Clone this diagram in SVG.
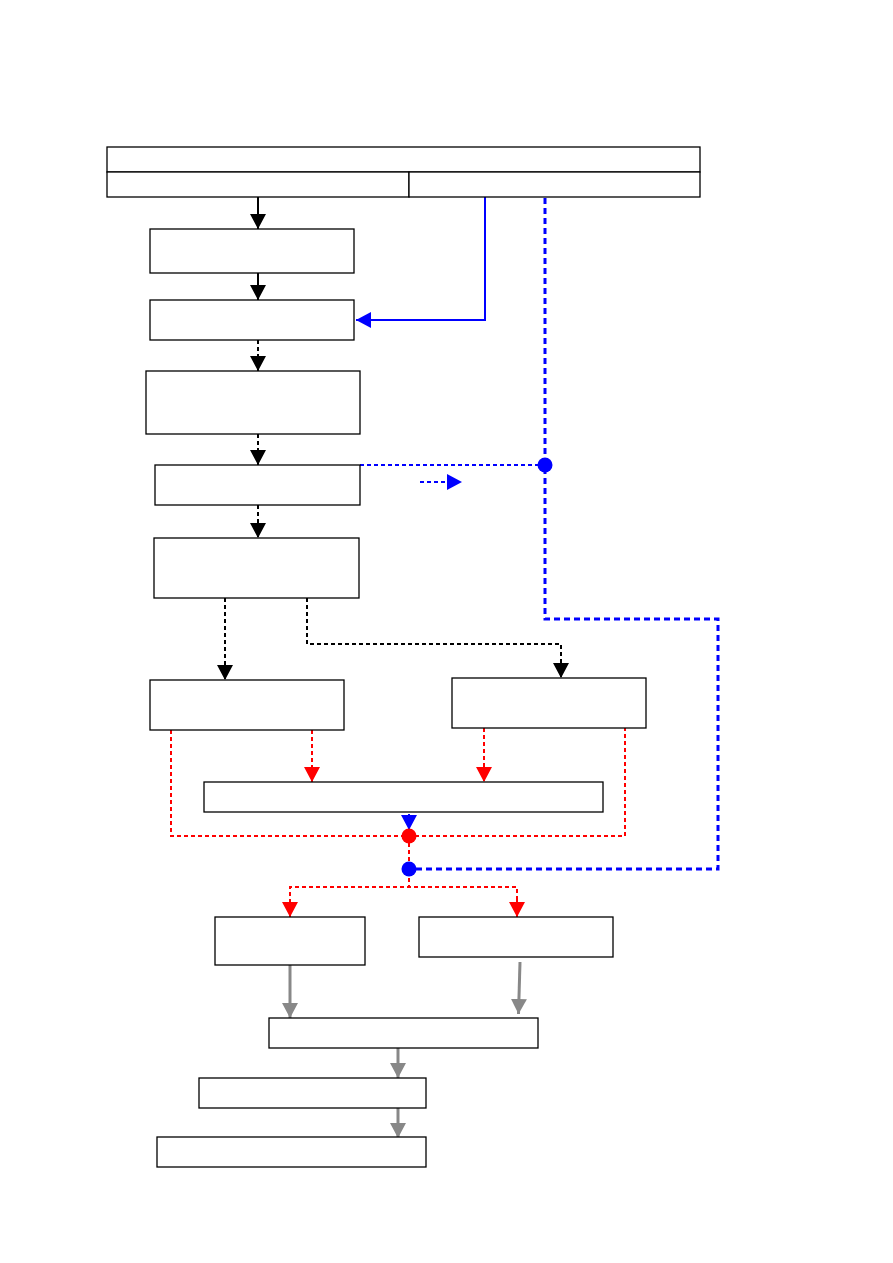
<svg xmlns="http://www.w3.org/2000/svg" width="893" height="1263" viewBox="0 0 893 1263">
<defs>
<style>
.box{fill:#fff;stroke:#000;stroke-width:1.3}
.blk{fill:none;stroke:#000;stroke-width:2}
.blkd{fill:none;stroke:#000;stroke-width:2;stroke-dasharray:4 3}
.blu{fill:none;stroke:#00f;stroke-width:2}
.blud{fill:none;stroke:#00f;stroke-width:3;stroke-dasharray:6 4}
.bluds{fill:none;stroke:#00f;stroke-width:2;stroke-dasharray:4 3}
.redd{fill:none;stroke:#f00;stroke-width:2;stroke-dasharray:4 3}
.gry{fill:none;stroke:#888;stroke-width:3}
</style>
<marker id="ab" markerWidth="16" markerHeight="16" refX="15" refY="8" orient="auto" markerUnits="userSpaceOnUse"><path d="M0,0 L15,8 L0,16 Z" fill="#000"/></marker>
<marker id="au" markerWidth="16" markerHeight="16" refX="15" refY="8" orient="auto" markerUnits="userSpaceOnUse"><path d="M0,0 L15,8 L0,16 Z" fill="#00f"/></marker>
<marker id="ar" markerWidth="16" markerHeight="16" refX="15" refY="8" orient="auto" markerUnits="userSpaceOnUse"><path d="M0,0 L15,8 L0,16 Z" fill="#f00"/></marker>
<marker id="ag" markerWidth="16" markerHeight="16" refX="15" refY="8" orient="auto" markerUnits="userSpaceOnUse"><path d="M0,0 L15,8 L0,16 Z" fill="#888"/></marker>
</defs>
<rect width="893" height="1263" fill="#fff"/>
<g id="connectors">
<line class="blk" x1="258" y1="197" x2="258" y2="229" marker-end="url(#ab)"/>
<line class="blk" x1="258" y1="273" x2="258" y2="300" marker-end="url(#ab)"/>
<polyline class="blu" points="485,197 485,320 356,320" marker-end="url(#au)"/>
<line class="blkd" x1="258" y1="340" x2="258" y2="371" marker-end="url(#ab)"/>
<line class="blkd" x1="258" y1="434" x2="258" y2="465" marker-end="url(#ab)"/>
<line class="blkd" x1="258" y1="505" x2="258" y2="538" marker-end="url(#ab)"/>
<polyline class="blud" points="545,198 545,619 718,619 718,869 409,869"/>
<line class="bluds" x1="360" y1="465" x2="545" y2="465"/>
<line class="bluds" x1="420" y1="482" x2="462" y2="482" marker-end="url(#au)"/>
<line class="blkd" x1="225" y1="598" x2="225" y2="680" marker-end="url(#ab)"/>
<polyline class="blkd" points="307,598 307,644 561,644 561,678" marker-end="url(#ab)"/>
<line class="redd" x1="312" y1="730" x2="312" y2="782" marker-end="url(#ar)"/>
<line class="redd" x1="484" y1="728" x2="484" y2="782" marker-end="url(#ar)"/>
<polyline class="redd" points="171,730 171,836 625,836 625,728"/>
<line class="blu" x1="409" y1="814" x2="409" y2="830" marker-end="url(#au)"/>
<line class="redd" x1="409" y1="836" x2="409" y2="887"/>
<polyline class="redd" points="290,917 290,887 517,887 517,917"/>
<line class="redd" x1="290" y1="900" x2="290" y2="917" marker-end="url(#ar)"/>
<line class="redd" x1="517" y1="900" x2="517" y2="917" marker-end="url(#ar)"/>
<circle cx="545" cy="465" r="7.5" fill="#00f"/>
<circle cx="409" cy="836" r="7.5" fill="#f00"/>
<circle cx="409" cy="869" r="7.5" fill="#00f"/>
<line class="gry" x1="290" y1="965" x2="290" y2="1018" marker-end="url(#ag)"/>
<line class="gry" x1="520" y1="962" x2="518.5" y2="1014" marker-end="url(#ag)"/>
<line class="gry" x1="398" y1="1048" x2="398" y2="1078" marker-end="url(#ag)"/>
<line class="gry" x1="398" y1="1108" x2="398" y2="1138" marker-end="url(#ag)"/>
</g>
<g id="n-top"><rect class="box" x="107" y="147" width="593" height="25"/></g>
<g id="n-top-left"><rect class="box" x="107" y="172" width="302" height="25"/></g>
<g id="n-top-right"><rect class="box" x="409" y="172" width="291" height="25"/></g>
<g id="n-a"><rect class="box" x="150" y="229" width="204" height="44"/></g>
<g id="n-b"><rect class="box" x="150" y="300" width="204" height="40"/></g>
<g id="n-c"><rect class="box" x="146" y="371" width="214" height="63"/></g>
<g id="n-d"><rect class="box" x="155" y="465" width="205" height="40"/></g>
<g id="n-e"><rect class="box" x="154" y="538" width="205" height="60"/></g>
<g id="n-f"><rect class="box" x="150" y="680" width="194" height="50"/></g>
<g id="n-g"><rect class="box" x="452" y="678" width="194" height="50"/></g>
<g id="n-h"><rect class="box" x="204" y="782" width="399" height="30"/></g>
<g id="n-i"><rect class="box" x="215" y="917" width="150" height="48"/></g>
<g id="n-j"><rect class="box" x="419" y="917" width="194" height="40"/></g>
<g id="n-k"><rect class="box" x="269" y="1018" width="269" height="30"/></g>
<g id="n-l"><rect class="box" x="199" y="1078" width="227" height="30"/></g>
<g id="n-m"><rect class="box" x="157" y="1137" width="269" height="30"/></g>
</svg>
